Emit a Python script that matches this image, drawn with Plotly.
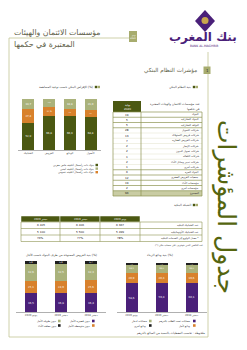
import plotly.graph_objects as go

F = "DejaVu Sans"
W, H = 247, 350

# ---------------- data ----------------
top_cats = ['الشبابيك', 'القروض', 'الودائع', 'الأصول']
top_private = [52.9, 66.8, 66.9, 64.8]
top_public = [27.4, 17.6, 14.3, 14.2]
top_foreign = [19.7, 15.6, 18.8, 21.0]
top_legend = ['بنوك ذات رأسمال أغلبيته خاص مغربي', 'بنوك ذات رأسمال أغلبيته أجنبي', 'بنوك ذات رأسمال أغلبيته عمومي']

periods = ['يونيو 2020', 'دجنبر 2019', 'دجنبر 2018']
cred_short = [36.5, 36.8, 36.4]
cred_medium = [25.1, 24.9, 25.6]
cred_long = [32.6, 32.5, 32.3]
cred_bad = [5.8, 5.8, 5.7]
cred_legend = ['ديون قصيرة الأجل', 'ديون متوسطة الأجل', 'ديون طويلة الأجل', 'ديون معلقة الأداء']

dep_demand = [58.6, 59.4, 60.1]
dep_term = [20.9, 20.3, 19.6]
dep_saving = [18.1, 18.0, 18.0]
dep_other = [2.4, 2.3, 2.3]
dep_legend = ['حسابات تحت الطلب بالدرهم', 'ودائع لأجل', 'حسابات ادخار', 'ودائع أخرى']

inst_labels = ['البنوك', 'البنوك التشاركية', 'النوافذ التشاركية', 'شركات التمويل',
               'شركات قروض الاستهلاك', 'شركات القروض العقارية', 'شركات الإيجار',
               'شركات تحويل الديون', 'شركات الكفالة', 'شركات تدبير وسائل الأداء',
               'شركات أخرى', 'البنوك الحرة', 'جمعيات القروض الصغرى', 'مؤسسات الأداء',
               'مؤسسات أخرى', 'المجموع']
inst_values = ['19', '5', '5', '28', '13', '7', '2', '2', '1', '2', '1', '6', '12', '19', '2', '96']

net_headers = ['دجنبر 2020', 'دجنبر 2019', 'يونيو 2020']
net_labels = ['عدد الشبابيك البنكية', 'عدد الشبابيك الأوتوماتيكية', 'معدل الولوج إلى الخدمات البنكية *']
net_values = [['6 405', '6 406', '6 367'], ['5 100', '5 500', '5 499'], ['76%', '77%', '78%']]

# ---------------- colours ----------------
DARK = '#4b5812'
LIGHT = '#aab27b'
ORANGE = '#d8812c'
PURPLE = '#4a2079'
BLACK = '#1e1e1e'
FRAME = '#c3c596'
TXT = '#5e5e48'
OLIVEBOX = '#a7ac6e'

ann, shp = [], []


def txt(x, y, s, size, color=TXT, anchor='center', angle=0, weight='normal'):
    ann.append(dict(x=x, y=y, xref='x', yref='y', text=s, showarrow=False,
                    font=dict(size=size, color=color, family=F, weight=weight),
                    xanchor=anchor, yanchor='middle', textangle=angle, borderpad=0))


def rect(x0, y0, x1, y1, fill, lc=None, lw=0):
    shp.append(dict(type='rect', xref='x', yref='y', x0=x0, y0=y0, x1=x1, y1=y1,
                    fillcolor=fill, line=dict(color=lc or fill, width=lw)))


def ln(x0, y0, x1, y1, color=FRAME, w=0.8):
    shp.append(dict(type='line', xref='x', yref='y', x0=x0, y0=y0, x1=x1, y1=y1,
                    line=dict(color=color, width=w)))


def fmt(v):
    return f"{v:.1f}".replace('.', ',')


# ---------------- page frame & header ----------------
ln(9, 38, 129, 38)
ln(9, 38, 9, 337)
ln(9, 337, 208, 337)
ln(208, 52, 208, 337)
txt(13, 32, 'مؤسسات الائتمان والهيئات', 7.8, anchor='left')
txt(13, 44, 'المعتبرة في حكمها', 7.8, anchor='left')
rect(129, 31, 137, 42, OLIVEBOX)
txt(133, 35, 'يونيو', 2, 'white')
txt(133, 38.5, '2020', 2.2, 'white')

# logo
shp.append(dict(type='path', xref='x', yref='y', path='M 205 10 L 215 21 L 205 32 L 195 21 Z',
                fillcolor=PURPLE, line=dict(width=0)))
shp.append(dict(type='circle', xref='x', yref='y', x0=201.5, y0=17, x1=208.5, y1=24,
                fillcolor='#c9a74e', line=dict(width=0)))
txt(203, 36.5, 'بنك المغرب', 12, PURPLE, weight='bold')
txt(204, 46, 'BANK AL-MAGHRIB', 3, PURPLE)

# big vertical title
txt(226, 207, 'جدول المؤشرات', 25, '#55650f', angle=90)

# section 1
rect(203.5, 66.5, 210.5, 74, OLIVEBOX)
txt(207, 70.3, '1', 4, '#333')
txt(198, 70, 'مؤشرات النظام البنكي', 5.6, anchor='right')

# sub-section labels


def sublabel(xr, y, s):
    rect(xr - 2.4, y - 1.2, xr, y + 1.2, OLIVEBOX)
    rect(xr - 5.2, y - 1.2, xr - 2.8, y + 1.2, DARK)
    txt(xr - 6, y, s, 3, '#333', anchor='right')


sublabel(198, 87, 'بنية النظام البنكي')
sublabel(100, 87, 'الإقراض البنكي حسب نوعية المساهمة (%)')
sublabel(198, 205, 'الشبكة البنكية')

# ---------------- top-left chart legend ----------------
for i, (name, col) in enumerate(zip(top_legend, [DARK, LIGHT, ORANGE])):
    y = 165 + i * 3.6
    rect(95.5, y - 1.2, 98, y + 1.2, col)
    txt(94.5, y, name, 2.6, '#333', anchor='right')

# ---------------- table 1 ----------------
TX0, TXM, TX1 = 113, 141, 202
rect(TX0, 101, TXM, 112, DARK)
txt(127, 104.5, 'نهاية', 2.8, 'white')
txt(127, 108.5, '2020', 2.8, 'white')
txt(TX1 - 1, 103.5, 'عدد مؤسسات الائتمان والهيئات المعتبرة', 3, '#333', anchor='right')
txt(TX1 - 1, 108.5, 'في حكمها', 3, '#333', anchor='right')
RH = 5.25
n = len(inst_labels)
rect(TX0, 112 + (n - 1) * RH, TX1, 112 + n * RH, '#c9cca3')
thick = {0, 1, 2, 3, 11, 12, 13, 14, 15, 16}
for i in range(n + 1):
    y = 112 + i * RH
    if i in thick:
        ln(TX0, y, TX1, y, '#8d9350', 0.7)
    else:
        ln(TX0, y, TX1, y, '#d8dabb', 0.4)
ln(TX0, 112, TX0, 112 + n * RH, '#8d9350', 0.7)
ln(TXM, 112, TXM, 112 + n * RH, '#8d9350', 0.7)
ln(TX1, 112, TX1, 112 + n * RH, '#8d9350', 0.7)
for i, (lab, val) in enumerate(zip(inst_labels, inst_values)):
    y = 112 + (i + 0.5) * RH
    txt(127, y, val, 2.8, '#222')
    txt(TX1 - 2, y, lab, 2.6, '#333', anchor='right')

# ---------------- table 2 ----------------
cols = [21, 60, 100, 140]
for j, h in enumerate(net_headers):
    rect(cols[j], 216, cols[j + 1], 222, DARK, '#ffffff', 0.5)
    txt((cols[j] + cols[j + 1]) / 2, 219, h, 2.6, 'white')
rows_y = [222, 228.5, 235, 241.5]
for i in range(len(net_labels)):
    y0, y1 = rows_y[i], rows_y[i + 1]
    ln(21, y1, 202, y1, '#8d9350', 0.6)
    for j in range(3):
        txt((cols[j] + cols[j + 1]) / 2, (y0 + y1) / 2, net_values[i][j], 2.8, '#222')
    txt(200, (y0 + y1) / 2, net_labels[i], 2.6, '#333', anchor='right')
ln(21, 222, 202, 222, '#8d9350', 0.6)
for x in [21, 60, 100, 140, 202]:
    ln(x, 222, x, 241.5, '#8d9350', 0.6)
txt(205, 245.5, '(*) عدد البالغين الذين يتوفرون على حساب بنكي', 2.4, '#333', anchor='right')

# ---------------- bottom titles & legends ----------------
txt(61, 255, 'بنية القروض الممنوحة من طرف البنوك حسب الأجل (%)', 3, '#333')
txt(160, 255, 'بنية ودائع الزبناء (%)', 3, '#333')

for (xs, name, col, y) in [(92, cred_legend[0], PURPLE, 321), (92, cred_legend[1], ORANGE, 325.5),
                           (58, cred_legend[2], LIGHT, 321), (58, cred_legend[3], BLACK, 325.5),
                           (193, dep_legend[0], PURPLE, 321), (193, dep_legend[1], ORANGE, 325.5),
                           (149, dep_legend[2], LIGHT, 321), (149, dep_legend[3], BLACK, 325.5)]:
    rect(xs, y - 1.3, xs + 2.6, y + 1.3, col)
    txt(xs - 1, y, name, 2.6, '#333', anchor='right')

txt(206, 333, 'ملحوظة : تحسب المعطيات بالنسبة من المبالغ بالدرهم', 3, '#333', anchor='right')

# ---------------- bar charts ----------------
fig = go.Figure()


def bars(cats, series, colors, xa, ya, width):
    for vals, col in zip(series, colors):
        fig.add_trace(go.Bar(x=cats, y=vals, xaxis=xa, yaxis=ya, width=width,
                             marker=dict(color=col, line=dict(width=0)),
                             text=[fmt(v) for v in vals], textposition='inside',
                             insidetextanchor='middle', textangle=0,
                             textfont=dict(size=3, color='white', family=F),
                             showlegend=False, hoverinfo='skip'))


bars(top_cats, [top_private, top_public, top_foreign], [DARK, ORANGE, LIGHT], 'x2', 'y2', 0.58)
bars(periods, [cred_short, cred_medium, cred_long, cred_bad], [PURPLE, ORANGE, LIGHT, BLACK], 'x3', 'y3', 0.4)
bars(periods, [dep_demand, dep_term, dep_saving, dep_other], [PURPLE, ORANGE, LIGHT, BLACK], 'x4', 'y4', 0.4)


def xax(x0, x1, anchor):
    return dict(domain=[x0 / W, x1 / W], anchor=anchor, showline=True, linecolor='#b0b0b0',
                linewidth=0.8, ticks='', showgrid=False, zeroline=False,
                tickfont=dict(size=2.6, color='#444', family=F), fixedrange=True)


def yax(ybot, ytop, anchor):
    return dict(domain=[1 - ybot / H, 1 - ytop / H], anchor=anchor, range=[0, 100],
                visible=False, fixedrange=True)


fig.update_layout(
    width=W, height=H, margin=dict(l=0, r=0, t=0, b=0),
    paper_bgcolor='white', plot_bgcolor='rgba(0,0,0,0)',
    barmode='stack', showlegend=False,
    xaxis=dict(domain=[0, 1], range=[0, W], visible=False, fixedrange=True),
    yaxis=dict(domain=[0, 1], range=[H, 0], visible=False, fixedrange=True),
    xaxis2=xax(18, 101, 'y2'), yaxis2=yax(150, 99, 'x2'),
    xaxis3=xax(16, 106, 'y3'), yaxis3=yax(312, 261, 'x3'),
    xaxis4=xax(116.5, 206.5, 'y4'), yaxis4=yax(312, 263, 'x4'),
    annotations=ann, shapes=shp,
    font=dict(family=F),
)

fig.write_html("out.html")
